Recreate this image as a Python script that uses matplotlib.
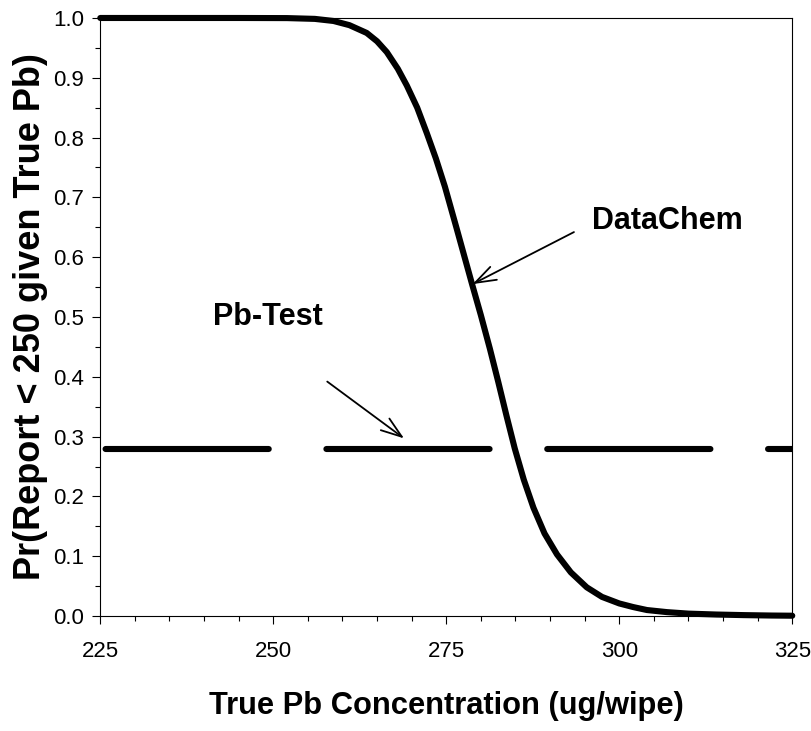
#!/usr/bin/env python
"""Probability of reporting < 250 ug/wipe vs true Pb concentration."""

import matplotlib
matplotlib.use('Agg')
import matplotlib.pyplot as plt
from matplotlib.ticker import MultipleLocator

plt.rcParams['font.family'] = ['Liberation Sans', 'DejaVu Sans']
plt.rcParams['lines.scale_dashes'] = False

# DataChem curve
datachem_x = [225, 245, 252, 256, 258.7, 261, 263.5, 265, 266.4, 268, 269.3,
              270.8, 272.2, 273.5, 274.8, 276.5, 278.7, 280, 281.3, 282.5,
              283.7, 284.9, 286.2, 287.6, 289.2, 291, 293, 295.3, 297.5, 300,
              302, 304, 306.9, 310, 314, 318, 322, 325]
datachem_y = [1.0, 1.0, 0.9998, 0.9985, 0.995, 0.988, 0.975, 0.961, 0.943,
              0.915, 0.887, 0.850, 0.807, 0.765, 0.718, 0.648, 0.556, 0.503,
              0.447, 0.392, 0.335, 0.280, 0.228, 0.181, 0.138, 0.103, 0.073,
              0.048, 0.032, 0.021, 0.015, 0.010, 0.0065, 0.004, 0.0025,
              0.0015, 0.0008, 0.0005]

# Pb-Test is flat
pbtest_x = [225, 325]
pbtest_y = [0.28, 0.28]

x_ticks = [225, 250, 275, 300, 325]
y_ticks = [0.0, 0.1, 0.2, 0.3, 0.4, 0.5, 0.6, 0.7, 0.8, 0.9, 1.0]


def main():
    fig = plt.figure(figsize=(8.12, 7.31), dpi=100)
    ax = fig.add_axes([0.1235, 0.1573, 0.8522, 0.8181])

    ax.plot(datachem_x, datachem_y, '-', color='black', linewidth=4.4,
            solid_capstyle='round', solid_joinstyle='round', clip_on=False,
            zorder=3)
    ax.plot(pbtest_x, pbtest_y, color='black', linewidth=4.4,
            linestyle=(155, (117.5, 41.5)), dash_capstyle='round', zorder=3)

    # arrows + labels
    arrow = dict(arrowstyle='->,head_length=0.75,head_width=0.26',
                 lw=1.3, color='black', mutation_scale=20,
                 shrinkA=0, shrinkB=0)
    ax.annotate('', xy=(278.8, 0.555), xytext=(293.45, 0.642),
                arrowprops=arrow)
    ax.annotate('', xy=(268.9, 0.297), xytext=(257.8, 0.392),
                arrowprops=arrow)
    ax.text(296.0, 0.647, 'DataChem', fontsize=22, fontweight='bold',
            ha='left', va='baseline')
    ax.text(241.3, 0.487, 'Pb-Test', fontsize=22, fontweight='bold',
            ha='left', va='baseline')

    ax.set_xlim(225, 325)
    ax.set_ylim(0, 1)
    ax.set_xticks(x_ticks)
    ax.set_yticks(y_ticks)
    ax.set_yticklabels([f'{v:.1f}' for v in y_ticks])
    ax.xaxis.set_minor_locator(MultipleLocator(5))
    ax.yaxis.set_minor_locator(MultipleLocator(0.05))
    ax.tick_params(which='major', direction='out', length=5.8, width=0.8,
                   labelsize=16, top=False, right=False)
    ax.tick_params(which='minor', direction='out', length=3.4, width=0.8,
                   top=False, right=False)
    ax.tick_params(axis='x', which='major', pad=12)
    ax.tick_params(axis='y', which='major', pad=6)
    for sp in ax.spines.values():
        sp.set_linewidth(0.8)

    ax.set_xlabel('True Pb Concentration (ug/wipe)', fontsize=22.2,
                  fontweight='bold', va='baseline')
    ax.xaxis.set_label_coords(0.5, -0.164)
    ax.set_ylabel('Pr(Report < 250 given True Pb)', fontsize=26,
                  fontweight='bold')
    ax.yaxis.set_label_coords(-0.075, 0.5)

    fig.savefig('out.png', dpi=100)


if __name__ == '__main__':
    main()
